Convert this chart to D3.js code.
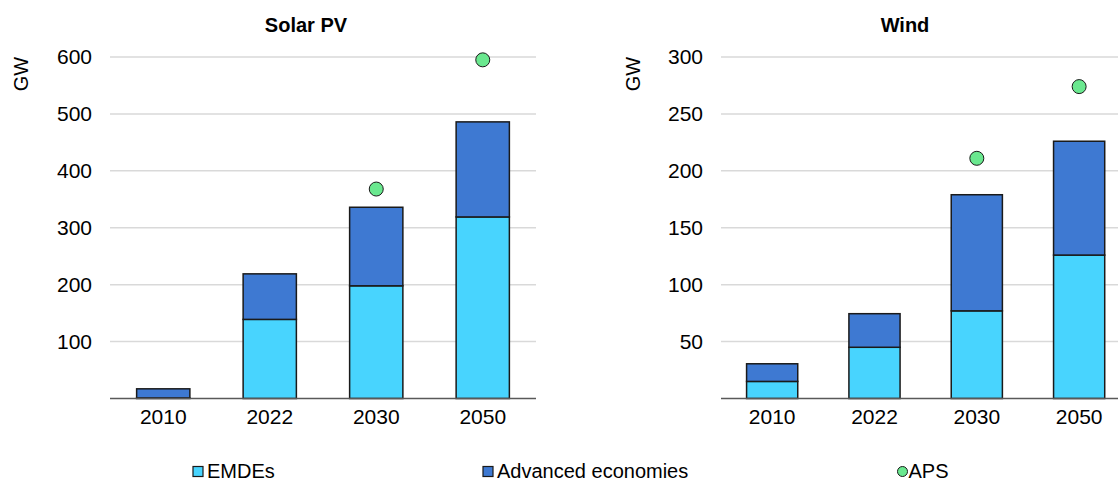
<!DOCTYPE html>
<html>
<head>
<meta charset="utf-8">
<script src="https://cdn.jsdelivr.net/npm/d3@7"></script>
<style>
  html, body { margin: 0; padding: 0; background: #fff; }
  svg { display: block; font-family: "Liberation Sans", Arial, sans-serif; }
</style>
</head>
<body>
<svg id="chart" width="1118" height="480"></svg>
<script>
// ---- data ----
const years = ["2010", "2022", "2030", "2050"];
const seriesNames = ["EMDEs", "Advanced economies", "APS"];

const solarEMDEs = [1, 139, 198, 319];
const solarAdvanced = [16, 80, 138, 167];
const solarAPS = [null, null, 368, 595];
const solarTicks = [100, 200, 300, 400, 500, 600];

const windEMDEs = [15, 45, 77, 126];
const windAdvanced = [15.5, 29.5, 102, 100];
const windAPS = [null, null, 211, 274];
const windTicks = [50, 100, 150, 200, 250, 300];

// ---- styles ----
const colEMDE = "#48D4FE";
const colAdv = "#3E79D2";
const colAPS = "#6AE88F";
const strokeCol = "#1a1a1a";

const svg = d3.select("#chart");

function panel(opts) {
  const x = d3.scaleBand().domain(years).range([opts.x0, opts.x1]).paddingInner(0.5).paddingOuter(0.25);
  const y = d3.scaleLinear().domain([0, opts.max]).range([398.5, 57]);
  const g = svg.append("g");

  // gridlines
  g.selectAll("line.grid").data(opts.ticks).enter().append("line")
    .attr("x1", opts.x0).attr("x2", Math.min(opts.x1, 1118))
    .attr("y1", d => y(d)).attr("y2", d => y(d))
    .attr("stroke", "#d9d9d9").attr("stroke-width", 1.5);

  // y axis labels via d3 axis
  const yAxis = d3.axisLeft(y).tickValues(opts.ticks).tickSize(0).tickPadding(18).tickFormat(d3.format("d"));
  const ya = g.append("g").attr("transform", `translate(${opts.x0},0)`).call(yAxis);
  ya.select(".domain").remove();
  ya.selectAll("text").attr("font-size", 21).attr("fill", "#000")
    .attr("font-family", "'Liberation Sans', Arial, sans-serif");

  const data = years.map((yr, i) => ({ yr, e: opts.emde[i], a: opts.adv[i], aps: opts.aps[i] }));

  // EMDE bars
  g.selectAll("rect.e").data(data).enter().append("rect")
    .attr("x", d => x(d.yr)).attr("width", x.bandwidth())
    .attr("y", d => y(d.e)).attr("height", d => y(0) - y(d.e))
    .attr("fill", colEMDE).attr("stroke", strokeCol).attr("stroke-width", 1.5);
  // Advanced bars
  g.selectAll("rect.a").data(data).enter().append("rect")
    .attr("x", d => x(d.yr)).attr("width", x.bandwidth())
    .attr("y", d => y(d.e + d.a)).attr("height", d => y(d.e) - y(d.e + d.a))
    .attr("fill", colAdv).attr("stroke", strokeCol).attr("stroke-width", 1.5);

  // baseline
  g.append("line").attr("x1", opts.x0).attr("x2", Math.min(opts.x1, 1118))
    .attr("y1", y(0)).attr("y2", y(0)).attr("stroke", "#595959").attr("stroke-width", 1.5);

  // x axis labels
  const xAxis = d3.axisBottom(x).tickSize(0).tickPadding(11);
  const xa = g.append("g").attr("transform", `translate(0,${y(0)})`).call(xAxis);
  xa.select(".domain").remove();
  xa.selectAll("text").attr("font-size", 21).attr("fill", "#000")
    .attr("font-family", "'Liberation Sans', Arial, sans-serif");

  // APS dots
  g.selectAll("circle.aps").data(data.filter(d => d.aps != null)).enter().append("circle")
    .attr("cx", d => x(d.yr) + x.bandwidth() / 2).attr("cy", d => y(d.aps))
    .attr("r", 7).attr("fill", colAPS).attr("stroke", strokeCol).attr("stroke-width", 1);

  // title
  g.append("text").attr("x", opts.titleX).attr("y", 32).attr("text-anchor", "middle")
    .attr("font-size", 20).attr("font-weight", "bold").text(opts.title);

  // unit
  g.append("text").attr("transform", `translate(${opts.gwX},74) rotate(-90)`)
    .attr("text-anchor", "middle").attr("dy", "0.35em").attr("font-size", 20).text("GW");
}

panel({ x0: 110, x1: 536, max: 600, ticks: solarTicks, emde: solarEMDEs, adv: solarAdvanced, aps: solarAPS,
  title: "Solar PV", titleX: 306, gwX: 21 });
panel({ x0: 721, x1: 1130.3, max: 300, ticks: windTicks, emde: windEMDEs, adv: windAdvanced, aps: windAPS,
  title: "Wind", titleX: 905, gwX: 632.5 });

// legend
const legendItems = [
  { name: seriesNames[0], type: "rect", color: colEMDE, x: 193 },
  { name: seriesNames[1], type: "rect", color: colAdv, x: 483 },
  { name: seriesNames[2], type: "circle", color: colAPS, x: 898 }
];
const lg = svg.append("g");
legendItems.forEach(it => {
  if (it.type === "rect") {
    lg.append("rect").attr("x", it.x).attr("y", 466.5).attr("width", 10).attr("height", 10)
      .attr("fill", it.color).attr("stroke", strokeCol).attr("stroke-width", 1.2);
  } else {
    lg.append("circle").attr("cx", it.x + 4.5).attr("cy", 471.5).attr("r", 5)
      .attr("fill", it.color).attr("stroke", strokeCol).attr("stroke-width", 1);
  }
  lg.append("text").attr("x", it.x + (it.type === "rect" ? 14 : 10.5)).attr("y", 477.5)
    .attr("font-size", 20).attr("fill", "#000").text(it.name);
});
</script>
</body>
</html>
